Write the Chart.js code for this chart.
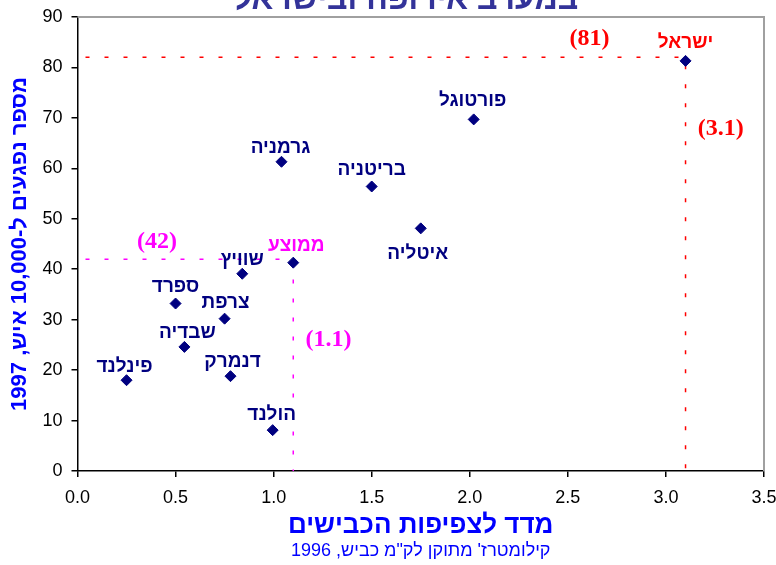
<!DOCTYPE html>
<html lang="he">
<head>
<meta charset="utf-8">
<script src="https://cdn.jsdelivr.net/npm/chart.js@4.4.1/dist/chart.umd.min.js"></script>
<style>
  html, body { margin: 0; padding: 0; background: #fff; }
  canvas { display: block; }
</style>
</head>
<body>
<canvas id="grafico" width="776" height="565"></canvas>
<script>
// Datos: países, índice de densidad de caminos (x) y heridos por 10,000 (y)
const paises = ['ישראל', 'פורטוגל', 'גרמניה', 'בריטניה', 'איטליה', 'שוויץ', 'ספרד', 'צרפת', 'שבדיה', 'פינלנד', 'דנמרק', 'הולנד'];
const densidad = [3.1, 2.02, 1.04, 1.50, 1.75, 0.84, 0.50, 0.75, 0.545, 0.25, 0.78, 0.995];
const heridos = [81.3, 69.7, 61.3, 56.4, 48.1, 39.1, 33.2, 30.2, 24.6, 18.0, 18.8, 8.1];

// Promedio
const promedioNombre = 'ממוצע';
const promedioX = [1.10];
const promedioY = [41.3];

// Líneas de referencia (nivel de Israel y del promedio)
const refIsrael = { x: 3.1, y: 82 };
const refPromedio = { x: 1.1, y: 42 };

// Anotaciones numéricas
const anotTextos = ['(81)', '(3.1)', '(42)', '(1.1)'];
const anotX = [2.61, 3.28, 0.405, 1.28];
const anotY = [85.6, 67.9, 45.4, 26.0];
const anotColores = ['#FF0000', '#FF0000', '#FF00FF', '#FF00FF'];

// Ticks
const ticksX = [0, 0.5, 1, 1.5, 2, 2.5, 3, 3.5];
const ticksY = [0, 10, 20, 30, 40, 50, 60, 70, 80, 90];

// Textos
const tituloSuperior = 'במערב אירופה ובישראל';
const tituloX = 'מדד לצפיפות הכבישים';
const subtituloX = 'קילומטרז\' מתוקן לק"מ כביש, 1996';
const tituloY = 'מספר נפגעים ל-10,000 איש, 1997';

// Desplazamiento de cada etiqueta respecto a su punto (px)
const despEtiquetas = [[0, -18], [-1, -19], [-1, -14], [0, -17], [-3, 25], [0, -14], [0, -17], [1, -16], [3, -14], [-2, -13], [2, -14], [-1, -15]];
const despPromedio = [3, -17];

const fuente = '"Liberation Sans", Arial, sans-serif';
const azulOscuro = '#000080';

// Plugin: marco gris, etiquetas, anotaciones y textos fuera del área
const decoraciones = {
  id: 'decoraciones',
  beforeDatasetsDraw(chart) {
    const { ctx, chartArea: a } = chart;
    ctx.save();
    ctx.strokeStyle = '#a0a0a0';
    ctx.lineWidth = 2;
    ctx.beginPath();
    ctx.moveTo(a.left, a.top);
    ctx.lineTo(a.right, a.top);
    ctx.lineTo(a.right, a.bottom);
    ctx.stroke();
    ctx.restore();
  },
  afterDatasetsDraw(chart) {
    const { ctx, scales } = chart;
    ctx.save();
    ctx.textAlign = 'center';
    ctx.textBaseline = 'middle';
    ctx.font = 'bold 19px ' + fuente;

    const meta = chart.getDatasetMeta(0);
    meta.data.forEach((pt, i) => {
      const d = despEtiquetas[i];
      ctx.fillStyle = i === 0 ? '#FF0000' : azulOscuro;
      ctx.fillText(paises[i], pt.x + d[0], pt.y + d[1]);
    });

    const metaProm = chart.getDatasetMeta(1);
    ctx.fillStyle = '#FF00FF';
    ctx.fillText(promedioNombre, metaProm.data[0].x + despPromedio[0], metaProm.data[0].y + despPromedio[1]);

    ctx.font = 'bold 24px "Liberation Serif", "Times New Roman", serif';
    anotTextos.forEach((t, i) => {
      ctx.fillStyle = anotColores[i];
      ctx.fillText(t, scales.x.getPixelForValue(anotX[i]), scales.y.getPixelForValue(anotY[i]));
    });

    // título cortado en la parte superior
    ctx.font = 'bold 32px ' + fuente;
    ctx.fillStyle = '#333399';
    ctx.textBaseline = 'alphabetic';
    ctx.fillText(tituloSuperior, 406, 9);

    // subtítulo del eje x
    ctx.font = '18px ' + fuente;
    ctx.fillStyle = '#0000FF';
    ctx.textBaseline = 'middle';
    const a = chart.chartArea;
    ctx.fillText(subtituloX, (a.left + a.right) / 2, 551);
    ctx.restore();
  }
};

const puntoEstilo = {
  pointStyle: 'rectRot',
  pointRadius: 5.5,
  pointHoverRadius: 5.5,
  backgroundColor: azulOscuro,
  borderColor: azulOscuro,
  borderWidth: 1,
  order: 0
};

const ctx = document.getElementById('grafico');
new Chart(ctx, {
  type: 'scatter',
  data: {
    datasets: [
      Object.assign({ label: 'מדינות', data: paises.map((p, i) => ({ x: densidad[i], y: heridos[i] })) }, puntoEstilo),
      Object.assign({ label: promedioNombre, data: promedioX.map((x, i) => ({ x: x, y: promedioY[i] })) }, puntoEstilo),
      {
        label: 'ref-israel',
        data: [{ x: 0, y: refIsrael.y }, { x: refIsrael.x, y: refIsrael.y }, { x: refIsrael.x, y: 0 }],
        showLine: true,
        borderColor: '#FF0000',
        borderWidth: 1.5,
        borderDash: [4, 15],
        borderDashOffset: -8,
        pointRadius: 0,
        fill: false,
        order: 2
      },
      {
        label: 'ref-promedio',
        data: [{ x: 0, y: refPromedio.y }, { x: refPromedio.x, y: refPromedio.y }, { x: refPromedio.x, y: 0 }],
        showLine: true,
        borderColor: '#FF00FF',
        borderWidth: 1.5,
        borderDash: [4, 15],
        borderDashOffset: -8,
        pointRadius: 0,
        fill: false,
        order: 2
      }
    ]
  },
  options: {
    responsive: false,
    animation: false,
    devicePixelRatio: 1,
    layout: { padding: { top: 17, right: 12, left: 0, bottom: 0 } },
    plugins: { legend: { display: false }, tooltip: { enabled: false } },
    scales: {
      x: {
        type: 'linear',
        min: ticksX[0],
        max: ticksX[ticksX.length - 1],
        afterBuildTicks: s => { s.ticks = ticksX.map(v => ({ value: v })); },
        ticks: { callback: v => Number(v).toFixed(1), color: '#000', font: { size: 18, family: fuente }, padding: 10, maxRotation: 0 },
        grid: { drawOnChartArea: false, tickLength: 6, color: '#000', tickColor: '#000', lineWidth: 1.5 },
        border: { color: '#000', width: 1.5 },
        title: { display: true, text: tituloX, color: '#0000FF', font: { size: 26, weight: 'bold', family: fuente }, padding: { top: 0, bottom: 24 } },
        afterFit: s => { s.height = 94; s.paddingLeft = 0; s.paddingRight = 0; }
      },
      y: {
        type: 'linear',
        min: ticksY[0],
        max: ticksY[ticksY.length - 1],
        afterBuildTicks: s => { s.ticks = ticksY.map(v => ({ value: v })); },
        ticks: { color: '#000', font: { size: 18, family: fuente }, padding: 9 },
        grid: { drawOnChartArea: false, tickLength: 6, color: '#000', tickColor: '#000', lineWidth: 1.5 },
        border: { color: '#000', width: 1.5 },
        title: { display: true, text: tituloY, color: '#0000FF', font: { size: 22, weight: 'bold', family: fuente }, padding: { top: 7, bottom: 0 } },
        afterFit: s => { s.width = 77.5; s.paddingTop = 0; s.paddingBottom = 0; }
      }
    }
  },
  plugins: [decoraciones]
});
</script>
</body>
</html>
